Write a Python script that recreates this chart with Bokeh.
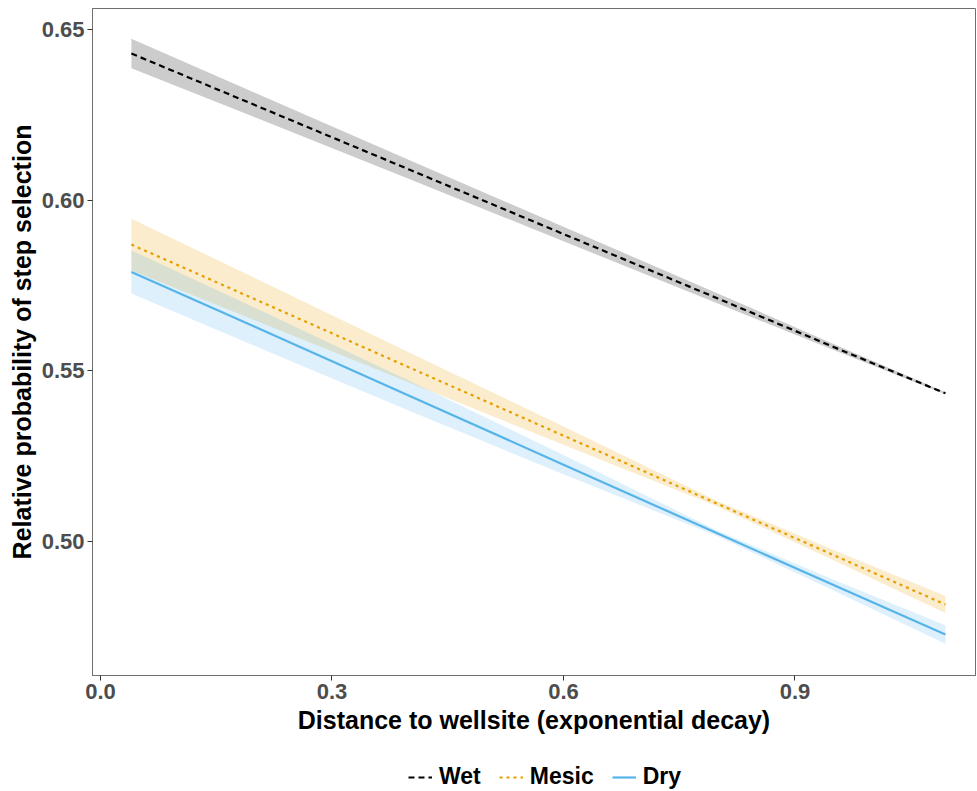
from bokeh.plotting import figure
from bokeh.layouts import column
from bokeh.models import Range1d, FixedTicker, PrintfTickFormatter, Legend, LegendItem
from bokeh.embed import file_html
from bokeh.resources import INLINE

# Predicted relative probability of step selection vs. distance to wellsite
distance = [0.04, 0.2, 0.4, 0.6, 0.8, 0.95, 1.095]

wet_fit = [0.6430, 0.6279, 0.6090, 0.5901, 0.5712, 0.5570, 0.5434]
wet_lo = [0.6387, 0.6243, 0.6062, 0.5880, 0.5697, 0.5561, 0.5431]
wet_hi = [0.6473, 0.6315, 0.6118, 0.5922, 0.5727, 0.5579, 0.5437]

mesic_fit = [0.5870, 0.5710, 0.5510, 0.5310, 0.5110, 0.4960, 0.4815]
mesic_lo = [0.5794, 0.5648, 0.5466, 0.5283, 0.5102, 0.4945, 0.4790]
mesic_hi = [0.5946, 0.5772, 0.5554, 0.5337, 0.5118, 0.4975, 0.4840]

dry_fit = [0.5790, 0.5629, 0.5427, 0.5225, 0.5023, 0.4872, 0.4727]
dry_lo = [0.5727, 0.5573, 0.5383, 0.5197, 0.5015, 0.4856, 0.4700]
dry_hi = [0.5853, 0.5685, 0.5471, 0.5253, 0.5031, 0.4888, 0.4754]

habitats = ["Wet", "Mesic", "Dry"]
colors = ["black", "#E69F00", "#56B4E9"]
dashes = ["6 4", "3 4", "solid"]
x_ticks = [0.0, 0.3, 0.6, 0.9]
y_ticks = [0.50, 0.55, 0.60, 0.65]

FONT = "Liberation Sans"

p = figure(
    frame_width=883, frame_height=667,
    x_range=Range1d(-0.0104, 1.134),
    y_range=Range1d(0.4607, 0.6562),
    output_backend="svg", toolbar_location=None,
    min_border_left=92, min_border_right=2, min_border_top=8, min_border_bottom=78,
)

p.background_fill_color = "white"
p.border_fill_color = "white"
p.xgrid.visible = False
p.ygrid.visible = False
p.outline_line_color = "#6E6E6E"
p.outline_line_width = 1

# confidence ribbons
p.varea(x=distance, y1=wet_lo, y2=wet_hi, fill_color=colors[0], fill_alpha=0.2)
p.varea(x=distance, y1=mesic_lo, y2=mesic_hi, fill_color=colors[1], fill_alpha=0.2)
p.varea(x=distance, y1=dry_lo, y2=dry_hi, fill_color=colors[2], fill_alpha=0.2)

# fitted lines
for fit, c, d in zip([wet_fit, mesic_fit, dry_fit], colors, dashes):
    p.line(distance, fit, line_color=c, line_width=2.2, line_dash=d)

for ax in (p.xaxis[0], p.yaxis[0]):
    ax.axis_line_color = "#6E6E6E"
    ax.major_tick_line_color = "#333333"
    ax.major_tick_in = 0
    ax.major_tick_out = 5
    ax.minor_tick_line_color = None
    ax.major_label_text_font = FONT
    ax.major_label_text_font_style = "bold"
    ax.major_label_text_font_size = "22px"
    ax.major_label_text_color = "#4D4D4D"
    ax.axis_label_text_font = FONT
    ax.axis_label_text_font_style = "bold"
    ax.axis_label_text_font_size = "25px"
    ax.axis_label_text_color = "black"

p.xaxis.ticker = FixedTicker(ticks=x_ticks)
p.yaxis.ticker = FixedTicker(ticks=y_ticks)
p.xaxis.formatter = PrintfTickFormatter(format="%.1f")
p.yaxis.formatter = PrintfTickFormatter(format="%.2f")
p.xaxis.axis_label = "Distance to wellsite (exponential decay)"
p.yaxis.axis_label = "Relative probability of step selection"
p.xaxis.major_label_standoff = 3
p.yaxis.major_label_standoff = 3
p.xaxis.axis_label_standoff = 4
p.yaxis.axis_label_standoff = 3

# key strip beneath the chart (its frame lines up with the chart's frame)
k = figure(
    width=977, height=38,
    x_range=Range1d(0, 1), y_range=Range1d(0, 1),
    x_axis_type=None, y_axis_type=None,
    output_backend="svg", toolbar_location=None,
    min_border=0,
)
k.outline_line_color = None
k.xgrid.visible = False
k.ygrid.visible = False
k.background_fill_color = "white"
k.border_fill_color = "white"

# off-range stand-ins that only supply the key glyph styles
key_lines = [
    k.line(x=[2, 3], y=[2, 2], line_color=c, line_width=2.2, line_dash=d)
    for c, d in zip(colors, dashes)
]

legend = Legend(
    items=[LegendItem(label=h, renderers=[r]) for h, r in zip(habitats, key_lines)],
    orientation="horizontal",
    location=(316, 1),
    label_text_font=FONT,
    label_text_font_style="bold",
    label_text_font_size="23px",
    label_text_color="black",
    glyph_width=24,
    glyph_height=20,
    label_height=20,
    spacing=18,
    label_standoff=7,
    border_line_color=None,
    background_fill_alpha=0,
    margin=0,
    padding=0,
)
k.add_layout(legend, "center")

layout = column(p, k, spacing=0)

open("out.html", "w").write(file_html(layout, INLINE))
